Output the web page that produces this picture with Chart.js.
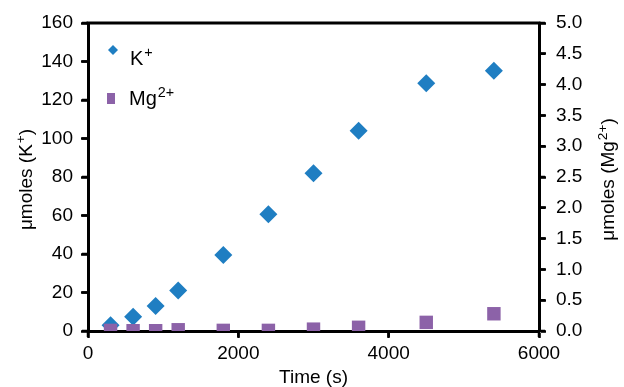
<!DOCTYPE html>
<html>
<head>
<meta charset="utf-8">
<script src="https://cdn.jsdelivr.net/npm/chart.js@4.4.1/dist/chart.umd.min.js"></script>
<style>
  html, body { margin: 0; padding: 0; background: #fff; }
  #wrap { width: 624px; height: 387px; position: relative; }
</style>
</head>
<body>
<div id="wrap"><canvas id="c" width="624" height="387"></canvas></div>
<script>
const times = [300, 600, 900, 1200, 1800, 2400, 3000, 3600, 4500, 5400];
const kValues = [3, 7.4, 13, 21, 39.5, 60.6, 82, 104, 128.7, 135.2];
const mgValues = [0.01, 0.005, 0.005, 0.02, 0.01, 0.01, 0.03, 0.06, 0.14, 0.28];
const xTickRange = { min: 0, max: 6000, step: 2000 };
const yLeftRange = { min: 0, max: 160, step: 20 };
const yRightRange = { min: 0, max: 5, step: 0.5 };

const BLUE = '#1F7EC2';
const PURPLE = '#8C62A8';
const FONT = 'Liberation Sans, Arial, sans-serif';
const FS = 19;

function drawRich(ctx, segs, x, y, size, align) {
  let total = 0;
  const widths = segs.map(s => {
    ctx.font = (s.sup ? size * 0.72 : size) + 'px ' + FONT;
    const w = ctx.measureText(s.t).width;
    total += w;
    return w;
  });
  let cx = align === 'center' ? x - total / 2 : x;
  ctx.textBaseline = 'middle';
  ctx.textAlign = 'left';
  segs.forEach((s, i) => {
    ctx.font = (s.sup ? size * 0.72 : size) + 'px ' + FONT;
    ctx.fillText(s.t, cx + (s.sup ? 1 : 0), s.sup ? y - size * 0.3 : y);
    cx += widths[i] + (s.sup ? 1 : 0);
  });
}

const overlay = {
  id: 'overlay',
  afterDraw(chart) {
    const ctx = chart.ctx;
    const a = chart.chartArea;
    ctx.save();
    // top border
    ctx.strokeStyle = '#000';
    ctx.lineWidth = 3;
    ctx.beginPath();
    ctx.moveTo(a.left - 1.5, a.top);
    ctx.lineTo(a.right + 1.5, a.top);
    ctx.stroke();
    // tick marks (outward)
    ctx.lineWidth = 2.5;
    const TL = 6;
    ctx.beginPath();
    chart.scales.y.ticks.forEach(t => {
      const py = chart.scales.y.getPixelForValue(t.value);
      ctx.moveTo(a.left - TL, py); ctx.lineTo(a.left, py);
    });
    chart.scales.y2.ticks.forEach(t => {
      const py = chart.scales.y2.getPixelForValue(t.value);
      ctx.moveTo(a.right, py); ctx.lineTo(a.right + TL, py);
    });
    chart.scales.x.ticks.forEach(t => {
      const px = chart.scales.x.getPixelForValue(t.value);
      ctx.moveTo(px, a.bottom); ctx.lineTo(px, a.bottom + TL);
    });
    ctx.stroke();
    ctx.fillStyle = '#000';
    const midY = (a.top + a.bottom) / 2 + 3;
    // left title
    ctx.save();
    ctx.translate(27, midY);
    ctx.rotate(-Math.PI / 2);
    drawRich(ctx, [{t: 'μmoles (K'}, {t: '+', sup: true}, {t: ')'}], 0, 0, FS, 'center');
    ctx.restore();
    // right title
    ctx.save();
    ctx.translate(609, midY);
    ctx.rotate(-Math.PI / 2);
    drawRich(ctx, [{t: 'μmoles (Mg'}, {t: '2+', sup: true}, {t: ')'}], 0, 0, FS, 'center');
    ctx.restore();
    // x title
    drawRich(ctx, [{t: 'Time (s)'}], (a.left + a.right) / 2, 378, FS, 'center');
    // legend
    ctx.fillStyle = BLUE;
    ctx.beginPath();
    ctx.moveTo(113, 45); ctx.lineTo(118, 50); ctx.lineTo(113, 55); ctx.lineTo(108, 50);
    ctx.closePath(); ctx.fill();
    ctx.fillStyle = PURPLE;
    ctx.fillRect(107, 93, 8, 11);
    ctx.fillStyle = '#000';
    drawRich(ctx, [{t: 'K'}, {t: '+', sup: true}], 130, 59, 20, 'left');
    drawRich(ctx, [{t: 'Mg'}, {t: '2+', sup: true}], 129, 99, 20, 'left');
    ctx.restore();
  }
};

const axisCommon = {
  border: { display: true, color: '#000', width: 3 },
  grid: { drawOnChartArea: false, drawTicks: true, tickLength: 7, tickColor: '#000', tickWidth: 2.5, color: '#000' },
  ticks: { color: '#000', font: { family: FONT, size: FS } }
};

new Chart(document.getElementById('c'), {
  type: 'scatter',
  data: {
    datasets: [
      {
        label: 'K+',
        data: times.map((t, i) => ({ x: t, y: kValues[i] })),
        yAxisID: 'y',
        pointStyle: 'rectRot',
        pointRadius: 9,
        pointHoverRadius: 9,
        backgroundColor: BLUE,
        borderWidth: 0,
        order: 2
      },
      {
        label: 'Mg2+',
        data: times.map((t, i) => ({ x: t, y: mgValues[i] })),
        yAxisID: 'y2',
        pointStyle: 'rect',
        pointRadius: 9.5,
        pointHoverRadius: 9.5,
        backgroundColor: PURPLE,
        borderWidth: 0,
        order: 1
      }
    ]
  },
  options: {
    responsive: false,
    animation: false,
    devicePixelRatio: 1,
    layout: { padding: { top: 23, left: 0, right: 0, bottom: 0 } },
    plugins: { legend: { display: false }, tooltip: { enabled: false } },
    scales: {
      x: {
        type: 'linear',
        min: xTickRange.min, max: xTickRange.max,
        border: axisCommon.border,
        grid: axisCommon.grid,
        ticks: { ...axisCommon.ticks, stepSize: xTickRange.step, padding: 4, maxRotation: 0, callback: v => String(v) },
        afterFit(s) { s.height = 56; }
      },
      y: {
        type: 'linear', position: 'left',
        min: yLeftRange.min, max: yLeftRange.max,
        border: axisCommon.border,
        grid: axisCommon.grid,
        ticks: { ...axisCommon.ticks, stepSize: yLeftRange.step, padding: 8, callback: v => String(v) },
        afterFit(s) { s.width = 88; }
      },
      y2: {
        type: 'linear', position: 'right',
        min: yRightRange.min, max: yRightRange.max,
        border: axisCommon.border,
        grid: axisCommon.grid,
        ticks: { ...axisCommon.ticks, stepSize: yRightRange.step, padding: 10, callback: v => v.toFixed(1) },
        afterFit(s) { s.width = 85; }
      }
    }
  },
  plugins: [overlay]
});
</script>
</body>
</html>
